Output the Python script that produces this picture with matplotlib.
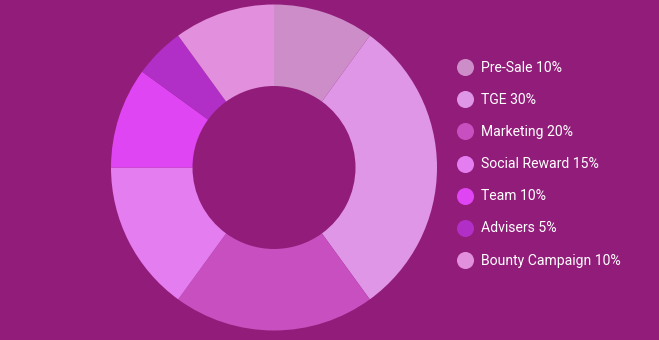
import matplotlib.pyplot as plt

labels = ["Pre-Sale", "TGE", "Marketing", "Social Reward", "Team", "Advisers", "Bounty Campaign"]
shares = [10, 30, 20, 15, 10, 5, 10]
colors = ["#CC8DC8", "#DF96E6", "#C74FC0", "#E47DF0", "#DF45F2", "#B12FC6", "#E28FDD"]

BG = "#921C7A"
W, H = 659, 340

fig = plt.figure(figsize=(W / 100, H / 100), dpi=100, facecolor=BG)

# donut: centre (274, 167), outer radius ~163 px
cx, cy, r = 274, 167.5, 163
ax = fig.add_axes([(cx - r) / W, 1 - (cy + r) / H, 2 * r / W, 2 * r / H])
ax.pie(shares, colors=colors, startangle=90, counterclock=False,
       wedgeprops=dict(width=0.5, linewidth=0))
ax.set_aspect("equal")
ax.set_xlim(-1, 1)
ax.set_ylim(-1, 1)

# legend drawn in pixel coordinates
lax = fig.add_axes([0, 0, 1, 1])
lax.set_xlim(0, W)
lax.set_ylim(H, 0)
lax.axis("off")
for i, (lab, val, col) in enumerate(zip(labels, shares, colors)):
    y = 67 + i * 32.2
    lax.scatter([465], [y], s=17 ** 2 * 0.52, color=col, linewidths=0)
    lax.text(481, y + 0.5, f"{lab} {val}%", color="white", fontsize=10.1,
             family="Roboto", va="center", ha="left")

fig.savefig("out.png", dpi=100, facecolor=BG)
